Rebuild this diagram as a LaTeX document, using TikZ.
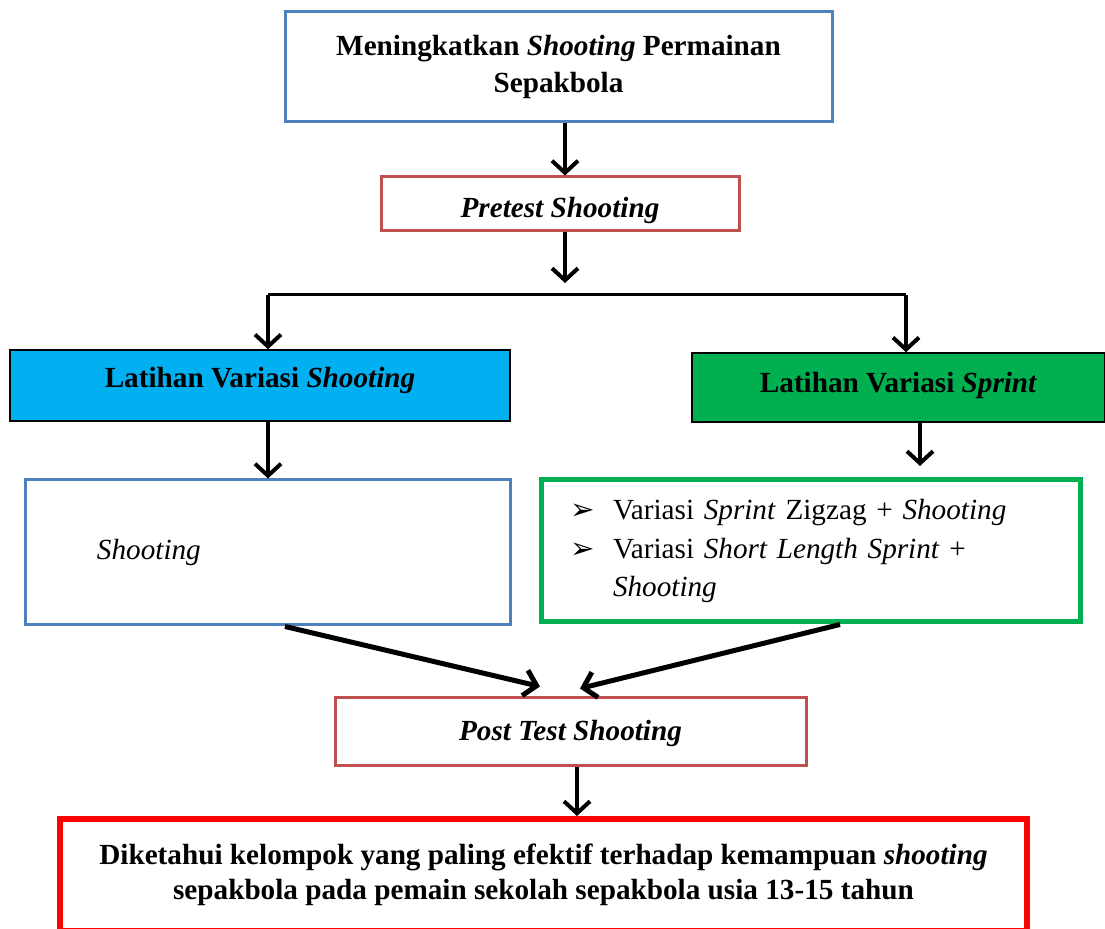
\documentclass[tikz,border=0pt]{standalone}
\usepackage{fontspec}
\setmainfont{Liberation Serif}
\newfontfamily\symfont{DejaVu Sans}
\usepackage{tikz}
\usetikzlibrary{arrows.meta}
\definecolor{boxblue}{HTML}{4F81BD}
\definecolor{boxrose}{HTML}{C0504D}
\definecolor{boxcyan}{HTML}{00B0F0}
\definecolor{boxgreen}{HTML}{00B050}
\definecolor{boxred}{HTML}{FF0000}
\tikzset{
	txt/.style={font=\fontsize{14.6}{18.5}\selectfont, inner sep=4pt},
	oneline/.style={txt, text height=10.5pt, text depth=3pt},
	bluebox/.style={txt, draw=boxblue, line width=1.5pt},
	rosebox/.style={oneline, draw=boxrose, line width=1.5pt},
	fillbox/.style={oneline, draw=black, line width=0.75pt},
	arr/.style={-{Straight Barb[length=6pt,width=13pt]}, line width=2pt},
}
\begin{document}
\begin{tikzpicture}[x=0.5pt, y=-0.5pt]
	\useasboundingbox (0,0) rectangle (1105,929);
	\node[bluebox, minimum width=273.5pt, minimum height=55pt, align=center] (v1) at (558.5,67) {\bfseries Meningkatkan \textit{Shooting} Permainan\\ \bfseries Sepakbola};
	\node[rosebox, minimum width=179pt, minimum height=27pt] (v2) at (560,204) {\raisebox{-3pt}{\bfseries\itshape Pretest Shooting}};
	\node[fillbox, fill=boxcyan, minimum width=250pt, minimum height=35.5pt] (v3) at (260,385.5) {\raisebox{2.5pt}{\bfseries Latihan Variasi \textit{Shooting}}};
	\node[fillbox, fill=boxgreen, minimum width=206.5pt, minimum height=34.5pt] (v4) at (898.5,387.5) {\raisebox{1pt}{\bfseries Latihan Variasi \textit{Sprint}}};
	\node[bluebox, minimum width=242.5pt, minimum height=72.5pt, text width=234.5pt, align=left] (v5) at (267.5,552.5) {\hspace*{32pt}\textit{Shooting}};
	\node[txt, draw=boxgreen, line width=2.5pt, minimum width=269.5pt, minimum height=71pt, inner xsep=14.5pt, text width=240.5pt, align=left, font=\fontsize{14.6}{19.3}\selectfont] (v6) at (810.5,551)
		{\makebox[21.5pt][l]{\symfont ➢}Variasi \textit{Sprint} Zigzag + \textit{Shooting}\\
		\makebox[21.5pt][l]{\symfont ➢}Variasi \textit{Short Length Sprint} +\\
		\hspace*{21.5pt}\textit{Shooting}};
	\node[rosebox, minimum width=235.5pt, minimum height=34pt] (v7) at (570.5,732) {\raisebox{-0.5pt}{\bfseries\itshape Post Test Shooting}};
	\node[txt, draw=boxred, line width=3pt, minimum width=483.5pt, minimum height=56pt, align=center, font=\fontsize{14.6}{17.5}\selectfont\bfseries] (v8) at (543.5,875)
		{Diketahui kelompok yang paling efektif terhadap kemampuan \textit{shooting}\\ sepakbola pada pemain sekolah sepakbola usia 13-15 tahun};
	\coordinate (c1) at (565,283);
	\coordinate (s1) at (268,295);
	\coordinate (s2) at (906,295);
	\coordinate (s3) at (920,466);
	\draw[arr] ([xshift=3.25pt]v1.south) -- ([xshift=2.5pt]v2.north);
	\draw[arr] ([xshift=2.5pt]v2.south) -- (c1);
	\draw[line width=1.5pt] (s1) -- (s2);
	\draw[arr] (s1) -- (s1 |- v3.north);
	\draw[arr] (s2) -- (s2 |- v4.north);
	\draw[arr] (s1 |- v3.south) -- (s1 |- v5.north);
	\draw[arr] (s3 |- v4.south) -- (s3);
	\draw[arr, line width=2.5pt] ([xshift=8.75pt]v5.south) -- ([xshift=-15.25pt,yshift=5pt]v7.north);
	\draw[arr, line width=2.5pt] ([xshift=14.75pt]v6.south) -- ([xshift=4.75pt,yshift=4pt]v7.north);
	\draw[arr] ([xshift=3.25pt]v7.south) -- ([xshift=16.75pt]v8.north);
\end{tikzpicture}
\end{document}
